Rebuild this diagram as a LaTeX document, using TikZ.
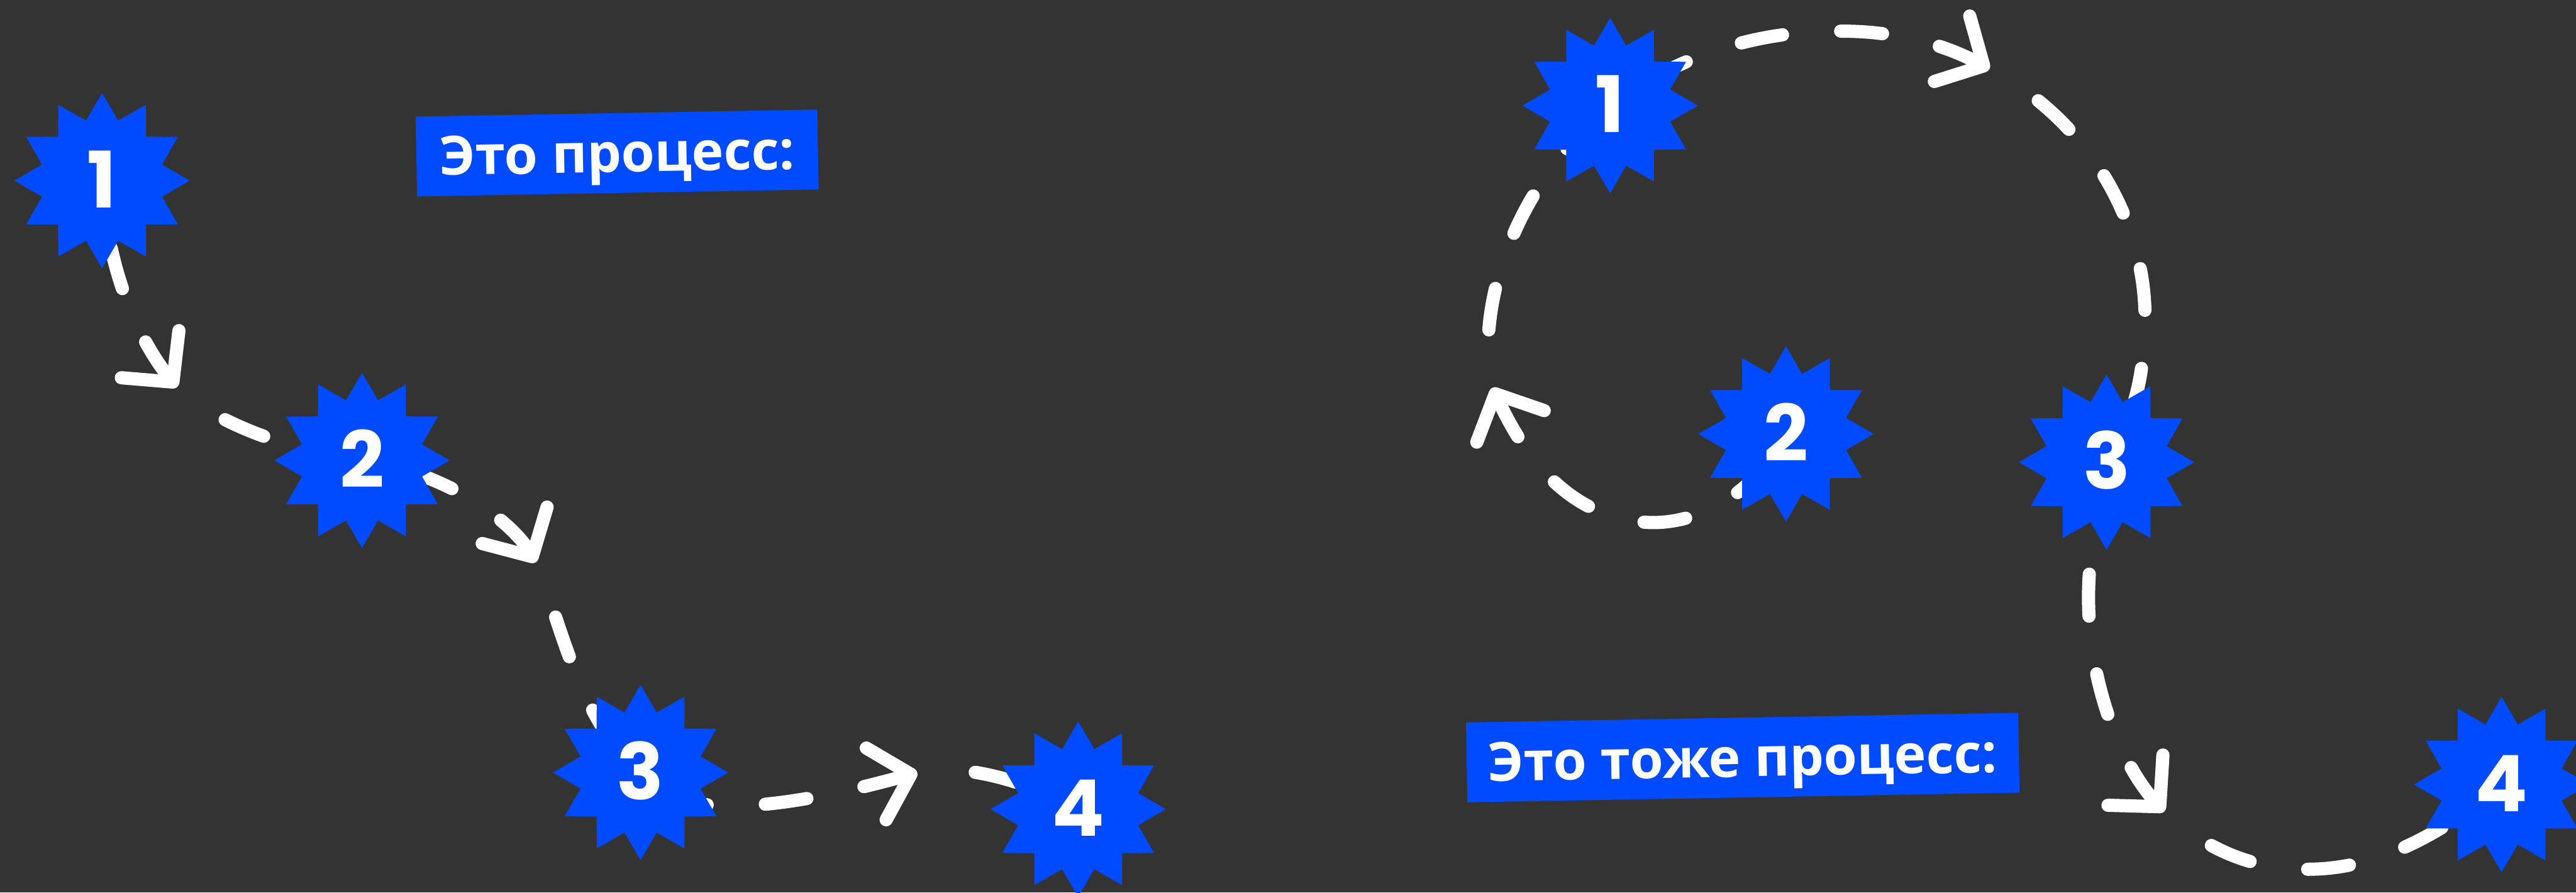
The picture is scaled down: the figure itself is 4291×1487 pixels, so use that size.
\documentclass[tikz,border=0pt]{standalone}
\usepackage{fontspec}
\setmainfont{Open Sans}
\newfontfamily\digitfont{Poppins}
\usetikzlibrary{shapes.geometric,arrows.meta}
\definecolor{bggray}{HTML}{333333}
\definecolor{badgeblue}{HTML}{004BFF}
\pgfdeclarelayer{canvas}
\pgfdeclarelayer{links}
\pgfsetlayers{canvas,links,main}

\begin{document}
\begin{tikzpicture}[x=0.1pt,y=0.1pt,yscale=-1,xscale=1,
  badge/.style={star,star points=12,star point ratio=1.41,minimum size=29.2pt,inner sep=0pt,
    fill=badgeblue,text=white,font=\digitfont\bfseries\fontsize{13}{13}\selectfont,
    text height=9pt,text depth=0pt},
  tag/.style={fill=badgeblue,text=white,font=\bfseries\fontsize{9}{9}\selectfont,
    minimum height=13.3pt,inner sep=0pt,text height=6.4pt,text depth=0pt,rotate=1},
  link/.style={white,line width=2.2pt,line cap=round,dash pattern=on 7pt off 9.7pt},
  head/.style={link,{Straight Barb[length=6pt,width=12.4pt,round]}-},
  tail/.style={link,dash phase=7pt}
]

\useasboundingbox (0,0) rectangle (4291,1487);
\begin{pgfonlayer}{canvas}
\fill[bggray] (0,0) rectangle (4291,1487);
\end{pgfonlayer}

\node[badge] (a1) at (170,301) {1};
\node[badge] (a2) at (603,767) {2};
\node[badge] (a3) at (1067,1287) {3};
\node[badge] (a4) at (1796,1348) {4};

\node[badge] (b1) at (2682,176) {1};
\node[badge] (b2) at (2975,723) {2};
\node[badge] (b3) at (3509,770) {3};
\node[badge] (b4) at (4167,1307) {4};

\node[tag,minimum width=66.9pt] (t1) at (1028,255) {Это процесс:};
\node[tag,minimum width=92pt] (t2) at (2903,1262) {Это тоже процесс:};

\coordinate (ka1) at (295,645);
\coordinate (ka2) at (892,937);
\coordinate (ka3) at (1528,1287);
\coordinate (kb1) at (3314,115);
\coordinate (kb2) at (2486,646);
\coordinate (kb3) at (3605,1352);

\begin{pgfonlayer}{links}
\draw[head] (ka1) .. controls (250,590) and (180,480) .. (a1.center);
\draw[tail] (ka1) .. controls (340,690) and (450,745) .. (a2.center);
\draw[head] (ka2) .. controls (860,880) and (760,790) .. (a2.center);
\draw[tail] (ka2) .. controls (925,1000) and (960,1200) .. (a3.center);
\draw[head] (ka3) .. controls (1300,1350) and (1120,1370) .. (a3.center);
\draw[tail] (ka3) .. controls (1600,1270) and (1710,1300) .. (a4.center);

\draw[head] (kb1) .. controls (3240,75) and (3160,52) .. (3070,52)
  .. controls (2930,50) and (2800,90) .. (b1.center);
\draw[tail] (kb1) .. controls (3480,200) and (3585,380) .. (3572,560)
  .. controls (3568,660) and (3540,720) .. (b3.center);
\draw[head] (kb2) .. controls (2530,740) and (2600,860) .. (2740,870)
  .. controls (2820,876) and (2920,830) .. (b2.center);
\draw[tail] (kb2) .. controls (2460,540) and (2500,330) .. (b1.center);
\draw[head] (kb3) .. controls (3530,1270) and (3470,1120) .. (3480,960)
  .. controls (3485,880) and (3495,820) .. (b3.center);
\draw[tail] (kb3) .. controls (3680,1420) and (3760,1450) .. (3850,1448)
  .. controls (3980,1446) and (4090,1370) .. (b4.center);
\end{pgfonlayer}

\end{tikzpicture}
\end{document}
